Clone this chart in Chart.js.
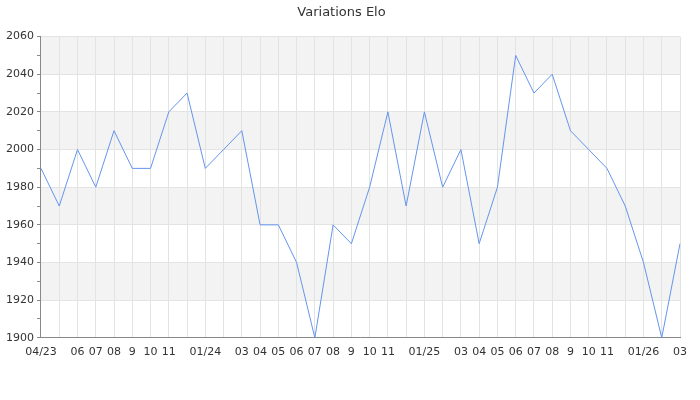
<!DOCTYPE html>
<html>
<head>
<meta charset="utf-8">
<script src="https://cdn.jsdelivr.net/npm/chart.js@4/dist/chart.umd.min.js"></script>
<style>
html,body{margin:0;padding:0;background:#fff;}
#wrap{width:700px;height:400px;}
</style>
</head>
<body>
<div id="wrap"><canvas id="c" width="700" height="400"></canvas></div>
<script>
const months = ["04/23","05","06","07","08","9","10","11","12","01/24","02","03",
  "04","05","06","07","08","9","10","11","12","01/25","02","03",
  "04","05","06","07","08","9","10","11","12","01/26","02","03"];
const tickLabels = ["04/23","","06","07","08","9","10","11","","01/24","","03",
  "04","05","06","07","08","9","10","11","","01/25","","03",
  "04","05","06","07","08","9","10","11","","01/26","","03"];
const elo = [1990,1970,2000,1980,2010,1990,1990,2020,2030,1990,2000,2010,
  1960,1960,1940,1900,1960,1950,1980,2020,1970,2020,1980,2000,
  1950,1980,2050,2030,2040,2010,2000,1990,1970,1940,1900,1950];
const bands = [[2040,2060],[2000,2020],[1960,1980],[1920,1940]];

const bandUnder = {
  id: 'bandUnder',
  beforeDraw(chart) {
    const {ctx, chartArea, scales} = chart;
    if (!scales.y) return;
    ctx.save();
    ctx.fillStyle = '#f3f3f3';
    bands.forEach(([a,b]) => {
      const y1 = scales.y.getPixelForValue(b);
      const y2 = scales.y.getPixelForValue(a);
      ctx.fillRect(chartArea.left, y1, chartArea.right - chartArea.left, y2 - y1);
    });
    ctx.restore();
  }
};

Chart.defaults.font.family = "'DejaVu Sans', sans-serif";
Chart.defaults.font.size = 11;
Chart.defaults.color = '#333';

new Chart(document.getElementById('c'), {
  type: 'line',
  data: {
    labels: months,
    datasets: [{
      data: elo,
      borderColor: '#6495ed',
      borderWidth: 1,
      pointRadius: 0,
      tension: 0,
      fill: false
    }]
  },
  options: {
    responsive: false,
    animation: false,
    layout: { padding: { left: 3, right: 20, bottom: 33, top: 0 } },
    plugins: {
      legend: { display: false },
      tooltip: { enabled: false },
      title: {
        display: true,
        text: 'Variations Elo',
        color: '#333',
        font: { size: 13, weight: 'normal' },
        padding: { top: 5, bottom: 16 }
      }
    },
    scales: {
      x: {
        offset: false,
        grid: { color: '#e3e3e3', drawTicks: false },
        border: { color: '#888' },
        ticks: {
          autoSkip: false,
          maxRotation: 0,
          padding: 8,
          callback: (v, i) => tickLabels[i]
        }
      },
      y: {
        min: 1900,
        max: 2060,
        grid: {
          color: (c) => (c.tick && c.tick.value % 20 === 0) ? '#e3e3e3' : 'rgba(0,0,0,0)',
          tickColor: '#888',
          tickLength: 4
        },
        border: { color: '#888' },
        ticks: {
          stepSize: 10,
          padding: 3,
          callback: (v) => v % 20 === 0 ? v : ''
        }
      }
    }
  },
  plugins: [bandUnder]
});
</script>
</body>
</html>
